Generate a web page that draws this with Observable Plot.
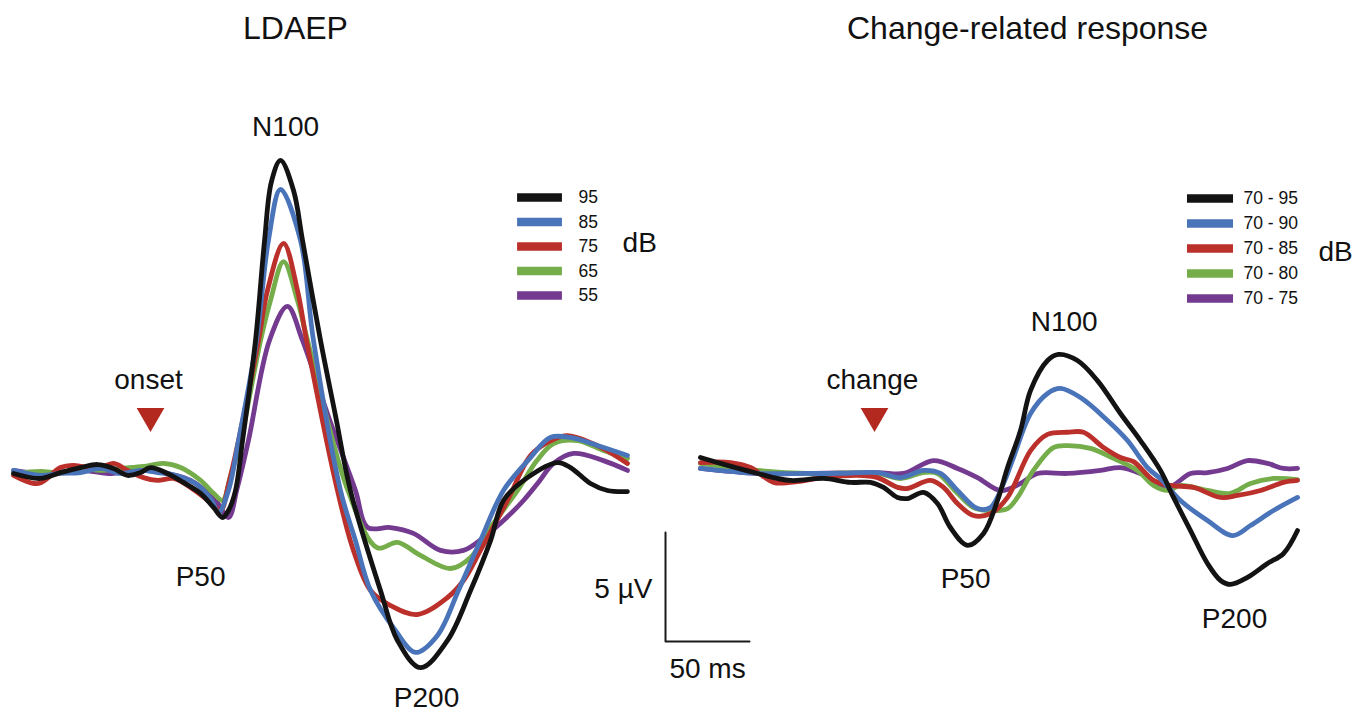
<!DOCTYPE html>
<html>
<head>
<meta charset="utf-8">
<script src="https://cdn.jsdelivr.net/npm/d3@7"></script>
<script src="https://cdn.jsdelivr.net/npm/@observablehq/plot@0.6"></script>
<style>
  body { margin: 0; background: #fff; }
  #wrap { position: relative; width: 1368px; height: 713px; display: flex; }
  #wrap svg { overflow: visible; display: block; }
</style>
</head>
<body>
<div id="wrap"></div>
<script>
// ---------------- DATA ----------------
// Time in ms (0 = onset / change), amplitude in µV (negative plotted upward)
const ldaepLevels  = ["95", "85", "75", "65", "55"];
const changeLevels = ["70 - 95", "70 - 90", "70 - 85", "70 - 80", "70 - 75"];
const seriesColors = ["#131313", "#4a74b9", "#bb302b", "#74ad4a", "#733a8f"];

const ldaep95 = [[-81.5,0.09],[-65.5,0.32],[-53.6,0.05],[-41.7,-0.18],[-31.5,-0.32],[-22,-0.14],[-13.7,0.18],[-6,0.05],[0,-0.18],[10.1,0.09],[19.6,0.5],[29.8,1.0],[37.5,1.65],[42.9,2.11],[46.4,1.79],[50.6,0.87],[54.8,-1.42],[62.5,-6.01],[67.9,-10.6],[72,-13.3],[77.4,-14.27],[85.1,-12.9],[90.5,-10.6],[101.2,-6.01],[110.1,-2.57],[119,0.87],[136.9,5.46],[147,7.75],[160.7,9.0],[176.8,7.75],[190.5,5.46],[202.4,3.17],[210.1,1.33],[224.4,0.28],[242.3,-0.41],[250,-0.18],[261.9,0.55],[272,0.87],[283.9,0.92]];
const ldaep85 = [[-81.5,-0.05],[-65.5,0.18],[-53.6,0.09],[-41.7,0.05],[-29.8,-0.14],[-17.9,0.09],[-6,-0.05],[4.2,0.05],[14.9,0.18],[26.8,0.55],[35.7,1.24],[40.5,1.88],[46.4,0.87],[52.4,-1.42],[63.1,-6.01],[70.2,-10.6],[77.4,-12.94],[89.3,-10.6],[97,-6.01],[113.1,0.87],[122,3.17],[131,5.46],[145.8,7.29],[157.7,8.3],[170.8,7.52],[183.3,5.46],[196.4,3.17],[210.1,0.87],[226.2,-0.64],[238,-1.56],[250,-1.56],[266,-1.19],[283.9,-0.73]];
const ldaep75 = [[-81.5,0.18],[-66.7,0.55],[-53.6,-0.18],[-45.8,-0.28],[-31.5,-0.14],[-22,-0.37],[-13.7,-0.05],[-4.2,0.28],[4.2,0.41],[13.7,0.32],[23.8,0.73],[35.7,1.42],[41.7,1.79],[46.4,0.6],[52.4,-1.42],[64.3,-6.01],[69.6,-8.3],[79.2,-10.46],[87.5,-8.3],[92.9,-6.01],[111.3,0.87],[120.8,3.62],[131,5.46],[142.9,6.15],[158.9,6.56],[176.8,5.78],[186.3,5.0],[196.4,3.62],[212.5,1.33],[226.2,-0.73],[238,-1.4],[248.2,-1.65],[266,-1.19],[283.9,-0.37]];
const ldaep65 = [[-81.5,0.09],[-65.5,0],[-53.6,0.05],[-41.7,-0.14],[-29.8,-0.05],[-17.9,-0.14],[-4.2,-0.23],[7.7,-0.37],[17.9,-0.18],[29.8,0.41],[37.5,1.0],[42.9,1.33],[47.6,0.2],[53.6,-1.42],[65.5,-6.01],[71.4,-7.84],[79.2,-9.63],[87.5,-7.84],[93.5,-6.01],[117.5,0.87],[135,3.5],[147,3.25],[160.7,3.85],[178.6,4.45],[190.5,3.94],[202.4,2.57],[218.5,0.87],[230,-0.5],[239.9,-1.28],[254.2,-1.42],[269.6,-0.96],[283.9,-0.6]];
const ldaep55 = [[-81.5,-0.05],[-65.5,0.09],[-41.7,-0.05],[-29.8,0.05],[-22,0.09],[-4.2,-0.18],[7.7,0.05],[23.8,0.41],[38.7,1.33],[46.4,2.11],[51.5,0.8],[58.3,-1.42],[70.8,-6.01],[81.5,-7.57],[90.5,-6.01],[106,-2.5],[122,0.87],[129.2,2.57],[142.9,2.57],[156.5,2.84],[172.6,3.62],[186.3,3.62],[198.2,3.03],[210.1,2.25],[222,1.33],[230.4,0.55],[239.9,-0.37],[251.8,-0.83],[269.6,-0.5],[283.9,-0.05]];

const change95 = [[-103.6,-0.64],[-91.7,-0.37],[-69.6,0.09],[-50,0.41],[-30.4,0.32],[-14.3,0.5],[-2.4,0.5],[5.4,0.73],[13.7,1.19],[19.6,1.24],[29.2,0.96],[37.5,1.47],[45.2,2.57],[55.4,3.39],[64.9,2.84],[73.2,1.33],[79.2,-0.18],[86.9,-1.88],[92.9,-3.72],[103,-5.09],[109.5,-5.37],[120.8,-5.09],[132.7,-4.17],[146.4,-2.66],[158.3,-1.42],[170.2,-0.05],[178,1.19],[188.1,2.71],[198.2,4.22],[206,5.0],[211.9,5.18],[222,4.86],[233.9,4.22],[243.5,3.76],[251.8,2.71]];
const change90 = [[-103.6,-0.14],[-69.6,0.09],[-39.9,0.09],[-20.2,0.09],[1.8,0.05],[15.5,0.28],[29.2,-0.05],[39.3,0.09],[49.4,0.87],[61.3,1.7],[69,1.65],[76.8,0.55],[82.7,-0.64],[92.9,-2.66],[103,-3.58],[110.7,-3.81],[122.6,-3.39],[138.7,-2.34],[150.6,-1.42],[162.5,-0.18],[171.4,0.41],[182.1,1.33],[198.2,2.25],[213.1,2.94],[223.8,2.48],[237.5,1.79],[251.8,1.19]];
const change85 = [[-103.6,-0.41],[-85.7,-0.41],[-73.8,-0.18],[-60.1,0.5],[-50,0.5],[-30.4,0.28],[-10.1,0.18],[1.8,0.28],[13.7,0.73],[19.6,0.78],[33.3,0.41],[41.1,0.73],[49.4,1.47],[58.9,2.02],[69,1.93],[79.2,1.19],[92.9,-0.96],[103,-1.7],[114.9,-1.8],[124.4,-1.8],[136.3,-1.1],[146.4,-0.64],[154.2,-0.45],[166.1,0.41],[176.2,0.64],[189.9,0.73],[206,1.19],[216.1,1.1],[229.8,0.87],[243.5,0.5],[251.8,0.41]];
const change80 = [[-103.6,-0.37],[-69.6,-0.05],[-39.9,0.09],[1.8,0.09],[15.5,0.32],[29.2,0.05],[37.5,0.09],[49.4,1.0],[58.9,1.65],[69,1.79],[79.2,1.7],[85.1,1.19],[94.6,-0.05],[106.5,-1.1],[114.9,-1.19],[128.6,-1.06],[142.3,-0.6],[156.5,-0.05],[166.1,0.64],[174.4,0.87],[182.1,0.64],[198.2,0.87],[211.9,1.0],[223.8,0.55],[237.5,0.32],[251.8,0.37]];
const change75 = [[-103.6,-0.14],[-69.6,0.09],[-39.9,0.09],[1.8,0.05],[17.3,0.09],[35.1,-0.5],[49.4,-0.14],[61.3,0.28],[75,0.87],[86.9,0.55],[97,0.09],[114.9,0.09],[134.5,-0.05],[146.4,-0.18],[158.3,0.09],[174.4,0.73],[188.1,0.09],[198.2,0.05],[210.1,-0.14],[222,-0.5],[233.9,-0.37],[243.5,-0.14],[251.8,-0.14]];

const ldaepLabels  = ["N100", "P50", "P200", "onset"];
const changeLabels = ["N100", "P50", "P200", "change"];
const scaleBarUv = 5;
const scaleBarMs = 50;

// ---------------- LAYOUT ----------------
const H = 713, PX_MS = 1.68, PX_UV = 21.8, BASE_PX = 471;
const FONT = '"Liberation Sans", Arial, Helvetica, sans-serif';
const INK = "#111";
const MARK_RED = "#b3281f";

const layouts = [
  {
    width: 640, zeroPx: 150, title: "LDAEP", titleT: 86.3,
    levels: ldaepLevels, series: [ldaep95, ldaep85, ldaep75, ldaep65, ldaep55],
    labels: ldaepLabels,
    labelPos: [[80.4, -15.8], [29.8, 4.85], [164.3, 10.4], [-1.2, -4.2]],
    legend: {x1: 218.5, x2: 245.2, tx: 254.8, top: -12.57, step: 1.124, dbT: 281, dbV: -10.46},
    scaleBar: false
  },
  {
    width: 728, zeroPx: 234, title: "Change-related response", titleT: 91.1,
    levels: changeLevels, series: [change95, change90, change85, change80, change75],
    labels: changeLabels,
    labelPos: [[112.9, -6.85], [54.2, 4.95], [214.3, 6.75], [-1.2, -4.2]],
    legend: {x1: 186.3, x2: 213.7, tx: 219.6, top: -12.52, step: 1.147, dbT: 264.3, dbV: -10.05},
    scaleBar: {t: -124.4, v: 7.8}
  }
];

function panel(L) {
  const rows = [];
  L.levels.forEach((lev, i) => L.series[i].forEach(([t, v]) => rows.push({level: lev, t, v})));
  const lines = L.levels.slice().reverse().map(lev =>
    Plot.line(rows.filter(r => r.level === lev), {
      x: "t", y: "v", stroke: "level", strokeWidth: 4.8,
      curve: "catmull-rom", strokeLinejoin: "round", strokeLinecap: "round"
    })
  );
  const labelRows = L.labels.map((s, i) => ({s, t: L.labelPos[i][0], v: L.labelPos[i][1]}));
  const lg = L.legend;
  const marks = [
    ...lines,
    Plot.text([L.title], {x: () => L.titleT, y: () => -20.3, text: d => d, fontSize: 32, fill: INK}),
    Plot.text(labelRows, {x: "t", y: "v", text: "s", fontSize: 28, fill: INK}),
    Plot.dot([0], {x: d => d, y: () => -2.55, symbol: "triangle", r: 10.3, rotate: 180, fill: MARK_RED, stroke: null}),
    Plot.ruleY(L.levels, {y: (d, i) => lg.top + i * lg.step, x1: lg.x1, x2: lg.x2, stroke: d => d, strokeWidth: 8.5}),
    Plot.text(L.levels, {x: lg.tx, y: (d, i) => lg.top + i * lg.step, text: d => d, textAnchor: "start", fontSize: 17.5, fill: INK}),
    Plot.text(["dB"], {x: lg.dbT, y: lg.dbV, text: d => d, textAnchor: "start", fontSize: 28, fill: INK})
  ];
  if (L.scaleBar) {
    const c = L.scaleBar;
    const bar = [[c.t, c.v - scaleBarUv], [c.t, c.v], [c.t + scaleBarMs, c.v]];
    marks.push(
      Plot.line(bar, {x: d => d[0], y: d => d[1], stroke: "#1a1a1a", strokeWidth: 2, curve: "linear"}),
      Plot.text([`${scaleBarUv} µV`], {x: c.t, y: c.v - scaleBarUv / 2 + 0.1, text: d => d, textAnchor: "end", dx: -13, fontSize: 28, fill: INK}),
      Plot.text([`${scaleBarMs} ms`], {x: c.t + scaleBarMs / 2, y: c.v + 1.24, text: d => d, fontSize: 28, fill: INK})
    );
  }
  return Plot.plot({
    width: L.width, height: H,
    marginTop: 0, marginRight: 0, marginBottom: 0, marginLeft: 0,
    style: {fontFamily: FONT, background: "transparent", overflow: "visible"},
    x: {domain: [-L.zeroPx / PX_MS, (L.width - L.zeroPx) / PX_MS], range: [0, L.width], axis: null},
    y: {domain: [-BASE_PX / PX_UV, (H - BASE_PX) / PX_UV], range: [0, H], axis: null},
    color: {domain: L.levels, range: seriesColors},
    marks
  });
}

const wrap = document.getElementById("wrap");
layouts.forEach(L => wrap.appendChild(panel(L)));
</script>
</body>
</html>
